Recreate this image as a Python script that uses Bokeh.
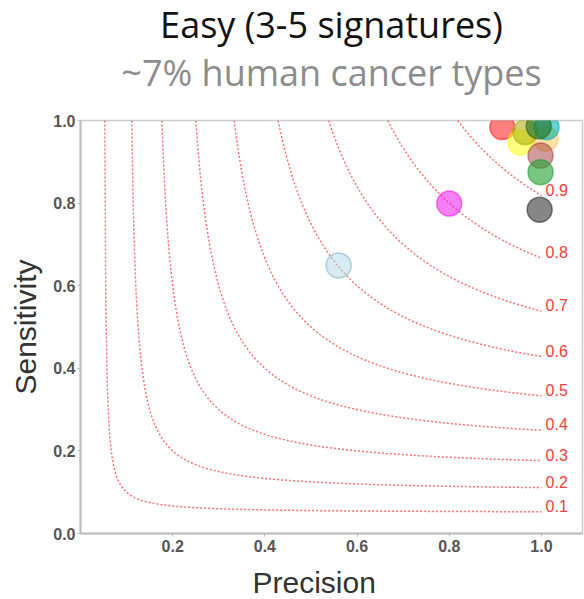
import numpy as np
from bokeh.plotting import figure
from bokeh.models import Title, FixedTicker, ColumnDataSource, Range1d, PrintfTickFormatter
from bokeh.core.properties import value
from bokeh.embed import file_html
from bokeh.resources import INLINE

# ---- data ----
title_text = "Easy (3-5 signatures)"
subtitle_text = "~7% human cancer types"
f1_levels = [0.1, 0.2, 0.3, 0.4, 0.5, 0.6, 0.7, 0.8, 0.9]
f1_labels = ["0.1", "0.2", "0.3", "0.4", "0.5", "0.6", "0.7", "0.8", "0.9"]
precision = [0.560, 0.800, 0.915, 0.954, 0.965, 1.009, 1.011, 0.994, 0.998, 0.998, 0.996]
sensitivity = [0.649, 0.799, 0.984, 0.947, 0.972, 0.956, 0.984, 0.986, 0.915, 0.875, 0.784]
point_colors = ["#add8e6", "#ee00ee", "#ff0000", "#ffff00", "#aaaa00", "#ffa500",
                "#00b0b0", "#1e6e1e", "#a03838", "#20a030", "#222222"]
point_edges = ["#6fa8bf", "#ee00ee", "#ff0000", "#ffff00", "#aaaa00", "#ffa500",
               "#00b0b0", "#1e6e1e", "#a03838", "#20a030", "#222222"]
point_alphas = [0.5, 0.5, 0.5, 0.5, 0.55, 0.35, 0.6, 0.6, 0.5, 0.6, 0.55]
x_ticks = [0.2, 0.4, 0.6, 0.8, 1.0]
y_ticks = [0.0, 0.2, 0.4, 0.6, 0.8, 1.0]

p = figure(width=584, height=599, output_backend="svg", toolbar_location=None,
           title=None, x_range=Range1d(0.0, 1.089), y_range=Range1d(0.0, 1.0),
           min_border_left=80, min_border_right=2, min_border_top=120, min_border_bottom=66)
p.background_fill_color = "white"
p.border_fill_color = "white"
p.outline_line_color = "#cccccc"
p.outline_line_width = 1.5
p.xgrid.visible = False
p.ygrid.visible = False

# titles above (first added is nearest the frame); a thin spacer lifts the subtitle
p.add_layout(Title(text=" ", text_font="Open Sans", text_font_size="2px", standoff=19), "above")
p.add_layout(Title(text=subtitle_text, align="center", text_font="Open Sans",
                   text_font_size="36px", text_font_style="normal", text_color="#8c8c8c",
                   standoff=0), "above")
p.add_layout(Title(text=title_text, align="center", text_font="Open Sans",
                   text_font_size="36px", text_font_style="normal", text_color="#111111",
                   standoff=-6), "above")

# iso-F1 curves
for f, lab in zip(f1_levels, f1_labels):
    pr = np.linspace(f / (2 - f), 1.0, 400)
    rc = f * pr / (2 * pr - f)
    p.line(pr, rc, line_color="#ff3030", line_alpha=0.7, line_width=1.5, line_dash="2 2")
    p.text(x=[1.009], y=[f / (2 - f) + 0.014], text=[lab], text_color="#ef4040",
           text_font=value("Liberation Sans"), text_font_size="16px",
           text_align="left", text_baseline="alphabetic")

src = ColumnDataSource(dict(x=precision, y=sensitivity, c=point_colors, e=point_edges, a=point_alphas))
p.scatter("x", "y", source=src, size=25, fill_color="c", fill_alpha="a",
          line_color="e", line_alpha="a", line_width=1.5)

for ax in (p.xaxis[0], p.yaxis[0]):
    ax.axis_line_color = "#bbbbbb"
    ax.axis_line_width = 2
    ax.major_tick_line_color = "#bbbbbb"
    ax.major_tick_out = 3
    ax.major_tick_in = 0
    ax.minor_tick_line_color = None
    ax.major_label_text_font = "Liberation Sans"
    ax.major_label_text_font_size = "16px"
    ax.major_label_text_font_style = "bold"
    ax.major_label_text_color = "#555555"
    ax.formatter = PrintfTickFormatter(format="%.1f")

p.xaxis.ticker = FixedTicker(ticks=x_ticks)
p.yaxis.ticker = FixedTicker(ticks=y_ticks)
p.xaxis.major_label_standoff = 3
p.yaxis.major_label_standoff = 2

p.yaxis.axis_label = "Sensitivity"
p.yaxis.axis_label_text_font = "Liberation Sans"
p.yaxis.axis_label_text_font_size = "30px"
p.yaxis.axis_label_text_font_style = "normal"
p.yaxis.axis_label_text_color = "#333333"
p.yaxis.axis_label_standoff = 8

# x label below, with a thin spacer between the tick labels and it
p.add_layout(Title(text=" ", text_font="Liberation Sans", text_font_size="2px", standoff=5), "below")
p.add_layout(Title(text="Precision", align="left", offset=172, text_font="Liberation Sans",
                   text_font_size="30px", text_font_style="normal", text_color="#333333",
                   standoff=0), "below")

open("out.html", "w").write(file_html(p, INLINE))
